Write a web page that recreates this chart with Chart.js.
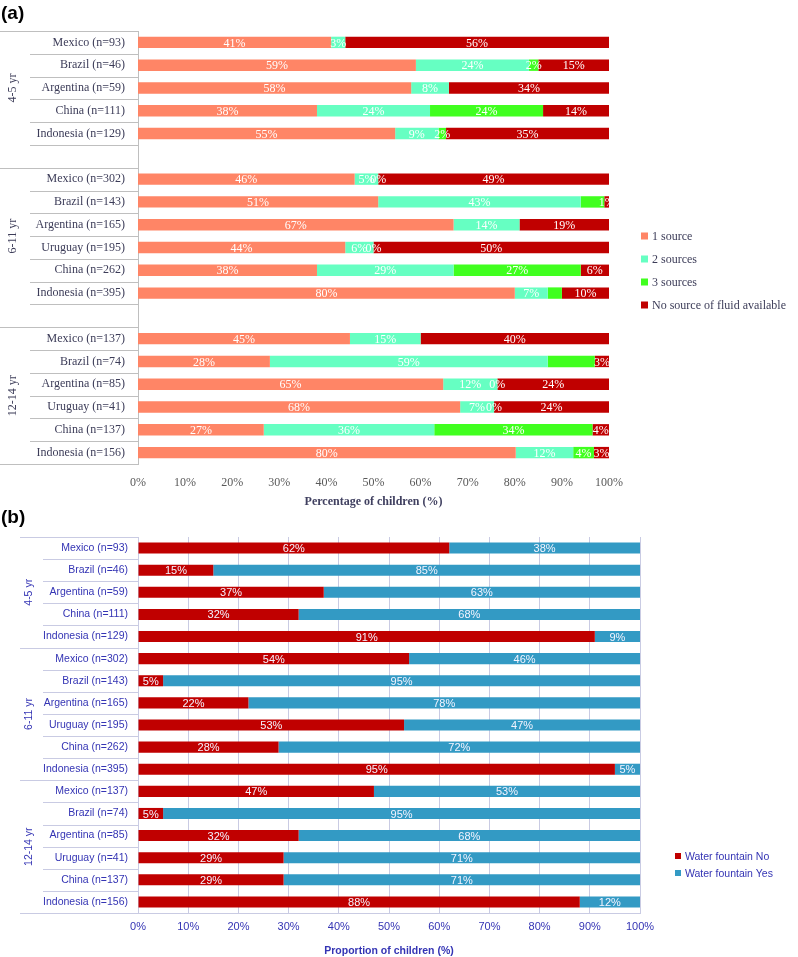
<!DOCTYPE html>
<html><head><meta charset="utf-8">
<script src="https://cdn.jsdelivr.net/npm/chart.js@4"></script>
<style>
body{margin:0;background:#fff;width:798px;height:957px;position:relative;overflow:hidden}
canvas{position:absolute;left:0}
#ca{top:0}
#cb{top:510px}
.pl{position:absolute;left:1px;font:bold 19px "Liberation Sans",Arial,sans-serif;color:#000;line-height:22px}
</style></head><body>
<canvas id="ca" width="798" height="510"></canvas>
<canvas id="cb" width="798" height="447"></canvas>
<div class="pl" style="top:2px">(a)</div>
<div class="pl" style="top:506px">(b)</div>
<script>
// ---------- Panel (a) data ----------
const categoriesA = ['Mexico (n=93)','Brazil (n=46)','Argentina (n=59)','China (n=111)','Indonesia (n=129)','',
  'Mexico (n=302)','Brazil (n=143)','Argentina (n=165)','Uruguay (n=195)','China (n=262)','Indonesia (n=395)','',
  'Mexico (n=137)','Brazil (n=74)','Argentina (n=85)','Uruguay (n=41)','China (n=137)','Indonesia (n=156)'];
const ageGroupsA = ['4-5 yr','6-11 yr','12-14 yr'];
const groupRowsA = [[0,4],[6,11],[13,18]];
const seriesNamesA = ['1 source','2 sources','3 sources','No source of fluid available'];
const oneSource    = [41,59,58,38,54.6,null,46,51,67,44,38,80,null,45,28,64.8,68.4,26.7,80.2];
const twoSources   = [3,24,8,24,9.2,null,5,43,14,6,29,7,null,15,59,11.5,7.2,36.2,12.2];
const threeSources = [null,2,null,24,1.6,null,0,5,null,0,27,3,null,null,10,0,0,33.6,4.4];
const noSource     = [56,15,34,14,34.6,null,49,1,19,50,6,10,null,40,3,23.7,24.4,3.5,3.2];
const unlabeledThree = [7,11,14];
const ticksA = [0,10,20,30,40,50,60,70,80,90,100];

// ---------- Panel (b) data ----------
const categoriesB = ['Mexico (n=93)','Brazil (n=46)','Argentina (n=59)','China (n=111)','Indonesia (n=129)',
  'Mexico (n=302)','Brazil (n=143)','Argentina (n=165)','Uruguay (n=195)','China (n=262)','Indonesia (n=395)',
  'Mexico (n=137)','Brazil (n=74)','Argentina (n=85)','Uruguay (n=41)','China (n=137)','Indonesia (n=156)'];
const ageGroupsB = ['4-5 yr','6-11 yr','12-14 yr'];
const groupRowsB = [[0,4],[5,10],[11,16]];
const seriesNamesB = ['Water fountain No','Water fountain Yes'];
const fountainNo  = [62,15,37,32,91,54,5,22,53,28,95,47,5,32,29,29,88];
const fountainYes = [38,85,63,68,9,46,95,78,47,72,5,53,95,68,71,71,12];

const SERIF = '"Liberation Serif","Times New Roman",serif';
const SANS = '"Liberation Sans",Arial,sans-serif';

function labelPlugin(id, font, color, skip) {
  return {
    id,
    afterDatasetsDraw(chart) {
      const ctx = chart.ctx;
      ctx.save();
      ctx.font = font;
      ctx.fillStyle = color;
      ctx.textAlign = 'center';
      ctx.textBaseline = 'middle';
      chart.data.datasets.forEach((ds, di) => {
        const meta = chart.getDatasetMeta(di);
        meta.data.forEach((el, i) => {
          const v = ds.data[i];
          if (v === null || v === undefined) return;
          if (skip && skip(di, i)) return;
          const p = el.getProps(['x','base','y'], true);
          ctx.fillText(Math.round(v) + '%', (p.x + p.base) / 2, p.y + 1);
        });
      });
      ctx.restore();
    }
  };
}

function groupPlugin(id, o) {
  return {
    id,
    afterDraw(chart) {
      const ctx = chart.ctx, y = chart.scales.y, ca = chart.chartArea;
      const n = chart.data.labels.length;
      ctx.save();
      ctx.strokeStyle = o.lineColor;
      ctx.lineWidth = 1;
      for (let i = 0; i <= n; i++) {
        const py = Math.round(y.getPixelForValue(i - 0.5)) + 0.5;
        const x0 = o.groupStarts.includes(i) ? o.groupX : o.rowX;
        ctx.beginPath(); ctx.moveTo(x0, py); ctx.lineTo(ca.left, py); ctx.stroke();
      }
      ctx.fillStyle = o.textColor;
      ctx.font = o.font;
      ctx.textAlign = 'center';
      ctx.textBaseline = 'middle';
      o.groups.forEach((g, gi) => {
        const r = o.rows[gi];
        const cy = (y.getPixelForValue(r[0] - 0.5) + y.getPixelForValue(r[1] + 0.5)) / 2;
        ctx.save();
        ctx.translate(o.textX, cy);
        ctx.rotate(-Math.PI / 2);
        ctx.fillText(g, 0, 0);
        ctx.restore();
      });
      // legend
      ctx.font = o.legendFont;
      ctx.textAlign = 'left';
      chart.data.datasets.forEach((ds, di) => {
        const ly = o.legendY + di * o.legendStep;
        ctx.fillStyle = ds.backgroundColor;
        ctx.fillRect(o.legendX, ly - o.box / 2, o.box, o.box);
        ctx.fillStyle = o.legendColor;
        ctx.fillText(ds.label, o.legendX + o.box + 4, ly + 1);
      });
      ctx.restore();
    }
  };
}

// ---------- Chart (a) ----------
const colorsA = ['#FF8566','#66FFC2','#40FF1F','#C00000'];
const valuesA = [oneSource, twoSources, threeSources, noSource];
new Chart(document.getElementById('ca'), {
  type: 'bar',
  data: {
    labels: categoriesA,
    datasets: seriesNamesA.map((name, i) => ({
      label: name, data: valuesA[i], backgroundColor: colorsA[i],
      borderWidth: 0, barPercentage: 0.5, categoryPercentage: 1
    }))
  },
  options: {
    indexAxis: 'y', responsive: false, animation: false,
    layout: { padding: { left: 0, top: 31, right: 189, bottom: 0 } },
    plugins: { legend: { display: false }, tooltip: { enabled: false } },
    scales: {
      x: {
        stacked: true, min: 0, max: 100,
        afterBuildTicks(s) { s.ticks = ticksA.map(v => ({ value: v })); },
        afterFit(s) { s.height = 46; },
        ticks: { callback: v => v + '%', color: '#595959', font: { family: SERIF, size: 12 }, padding: 12, maxRotation: 0 },
        grid: { display: false, drawTicks: false },
        border: { display: false },
        title: { display: true, text: 'Percentage of children (%)', color: '#404060',
          font: { family: SERIF, size: 12, weight: 'bold' }, padding: { top: 4, bottom: 1 } }
      },
      y: {
        stacked: true,
        afterFit(s) { s.width = 138; },
        ticks: { autoSkip: false, color: '#3c3c58', font: { family: SERIF, size: 12 }, padding: 13 },
        grid: { display: false, drawTicks: false },
        border: { display: true, color: '#BFBFBF' }
      }
    }
  },
  plugins: [
    labelPlugin('lblA', '12px ' + SERIF, '#ffffff', (di, i) => di === 2 && unlabeledThree.includes(i)),
    groupPlugin('grpA', {
      lineColor: '#BFBFBF', groupStarts: [0, 6, 13, 19], groupX: 0, rowX: 30,
      textColor: '#3c3c58', font: '12px ' + SERIF, textX: 13,
      groups: ageGroupsA, rows: groupRowsA,
      legendFont: '12px ' + SERIF, legendColor: '#3c3c58', legendX: 641, legendY: 236, legendStep: 23, box: 7
    })
  ]
});

// ---------- Chart (b) ----------
const colorsB = ['#C00000','#339AC4'];
const valuesB = [fountainNo, fountainYes];
const blue = '#3434B4';
new Chart(document.getElementById('cb'), {
  type: 'bar',
  data: {
    labels: categoriesB,
    datasets: seriesNamesB.map((name, i) => ({
      label: name, data: valuesB[i], backgroundColor: colorsB[i],
      borderWidth: 0, barPercentage: 0.5, categoryPercentage: 1
    }))
  },
  options: {
    indexAxis: 'y', responsive: false, animation: false,
    layout: { padding: { left: 0, top: 27, right: 158, bottom: 0 } },
    plugins: { legend: { display: false }, tooltip: { enabled: false } },
    scales: {
      x: {
        stacked: true, min: 0, max: 100,
        afterBuildTicks(s) { s.ticks = ticksA.map(v => ({ value: v })); },
        afterFit(s) { s.height = 44; },
        ticks: { callback: v => v + '%', color: blue, font: { family: SANS, size: 11 }, padding: 7, maxRotation: 0 },
        grid: { display: true, color: '#C9CBE3', drawTicks: false },
        border: { display: true, color: '#C9CBE3' },
        title: { display: true, text: 'Proportion of children (%)', color: blue,
          font: { family: SANS, size: 10.5, weight: 'bold' }, padding: { top: 4, bottom: 0 } }
      },
      y: {
        stacked: true,
        afterFit(s) { s.width = 138; },
        ticks: { autoSkip: false, color: blue, font: { family: SANS, size: 10.5 }, padding: 10 },
        grid: { display: false, drawTicks: false },
        border: { display: true, color: '#C9CBE3' }
      }
    }
  },
  plugins: [
    labelPlugin('lblB', '11px ' + SANS, '#f4f4ff', null),
    groupPlugin('grpB', {
      lineColor: '#C9CBE3', groupStarts: [0, 5, 11, 17], groupX: 20, rowX: 43,
      textColor: blue, font: '10.5px ' + SANS, textX: 29,
      groups: ageGroupsB, rows: groupRowsB,
      legendFont: '10.5px ' + SANS, legendColor: blue, legendX: 675, legendY: 346, legendStep: 17, box: 6
    })
  ]
});
</script>
</body></html>
